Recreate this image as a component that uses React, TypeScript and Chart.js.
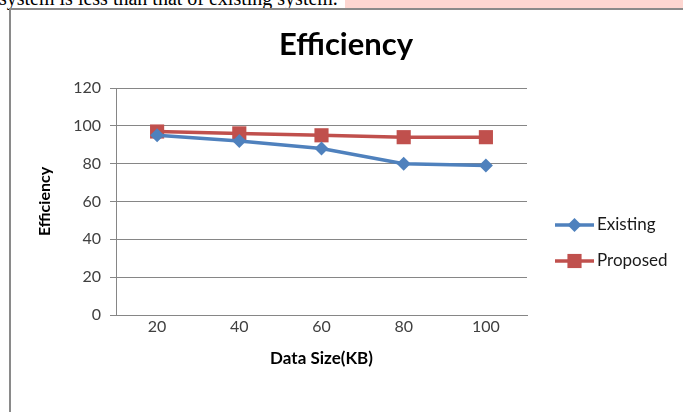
import React, { useEffect, useRef } from "react";
import { Chart, registerables } from "chart.js";

Chart.register(...registerables);

const categories = ["20", "40", "60", "80", "100"];
const existingValues = [95, 92, 88, 80, 79];
const proposedValues = [97, 96, 95, 94, 94];
const seriesNames = ["Existing", "Proposed"];
const seriesColors = ["#4F81BD", "#C0504D"];
const yMin = 0;
const yMax = 120;
const yStep = 20;
const chartTitle = "Efficiency";
const yAxisTitle = "Efficiency";
const xAxisTitle = "Data Size(KB)";
const captionText = "system is less than that of existing system.";

const FONT = "Lato, 'Noto Sans', sans-serif";
const GRID = "#868686";

const legendPlugin = {
  id: "excelLegend",
  afterDraw(chart: any) {
    const ctx = chart.ctx as CanvasRenderingContext2D;
    const x0 = 555;
    const x1 = 594;
    const yStart = 225;
    const dy = 36;
    chart.data.datasets.forEach((ds: any, i: number) => {
      const y = yStart + i * dy;
      const color = ds.borderColor;
      ctx.save();
      ctx.strokeStyle = color;
      ctx.lineWidth = ds.borderWidth;
      ctx.beginPath();
      ctx.moveTo(x0, y);
      ctx.lineTo(x1, y);
      ctx.stroke();
      const cx = (x0 + x1) / 2;
      ctx.fillStyle = color;
      if (ds.pointStyle === "rectRot") {
        const r = ds.pointRadius;
        ctx.beginPath();
        ctx.moveTo(cx, y - r);
        ctx.lineTo(cx + r, y);
        ctx.lineTo(cx, y + r);
        ctx.lineTo(cx - r, y);
        ctx.closePath();
        ctx.fill();
      } else {
        const s = ds.pointRadius * Math.SQRT1_2;
        ctx.fillRect(cx - s, y - s, 2 * s, 2 * s);
      }
      ctx.fillStyle = "#1a1a1a";
      ctx.font = `17px ${FONT}`;
      ctx.textBaseline = "middle";
      ctx.textAlign = "left";
      ctx.fillText(ds.label, x1 + 3, y);
      ctx.restore();
    });
  },
};

export default function App() {
  const canvasRef = useRef<HTMLCanvasElement | null>(null);

  useEffect(() => {
    if (!canvasRef.current) return;
    const chart = new Chart(canvasRef.current, {
      type: "line",
      data: {
        labels: categories,
        datasets: [
          {
            label: seriesNames[0],
            data: existingValues,
            borderColor: seriesColors[0],
            backgroundColor: seriesColors[0],
            borderWidth: 3.5,
            pointStyle: "rectRot",
            pointRadius: 7,
            pointBorderWidth: 0,
            tension: 0,
            yAxisID: "y",
          },
          {
            label: seriesNames[1],
            data: proposedValues,
            borderColor: seriesColors[1],
            backgroundColor: seriesColors[1],
            borderWidth: 3.5,
            pointStyle: "rect",
            pointRadius: 10,
            pointBorderWidth: 0,
            tension: 0,
            yAxisID: "y",
          },
        ],
      },
      options: {
        animation: false,
        responsive: false,
        maintainAspectRatio: false,
        layout: { padding: { left: 9, right: 0, top: 0, bottom: 0 } },
        plugins: {
          legend: { display: false },
          tooltip: { enabled: false },
          title: {
            display: true,
            text: chartTitle,
            color: "#000000",
            font: { family: FONT, size: 31, weight: "bold" },
            padding: { top: 26.4, bottom: 24.4 },
          },
        },
        scales: {
          x: {
            type: "category",
            offset: true,
            grid: { display: false, drawTicks: false },
            border: { display: true, color: GRID, width: 1 },
            ticks: {
              color: "#404040",
              font: { family: FONT, size: 16 },
              padding: 2,
            },
            title: {
              display: true,
              text: xAxisTitle,
              color: "#000000",
              font: { family: FONT, size: 17, weight: "bold" },
              padding: { top: 0, bottom: 42.8 },
            },
            afterFit(scale: any) {
              scale.height = 97;
            },
          },
          y: {
            min: yMin,
            max: yMax,
            grid: { color: GRID, lineWidth: 1, tickLength: 6, drawTicks: true },
            border: { display: true, color: GRID, width: 1 },
            ticks: {
              stepSize: yStep,
              color: "#404040",
              font: { family: FONT, size: 16 },
              padding: 9,
            },
            title: {
              display: true,
              text: yAxisTitle,
              color: "#000000",
              font: { family: FONT, size: 16, weight: "bold" },
              padding: { top: 26.4, bottom: 0 },
            },
            afterFit(scale: any) {
              scale.width = 107;
            },
          },
          legendSpace: {
            type: "linear",
            position: "right",
            display: true,
            grid: { display: false, drawTicks: false },
            border: { display: false },
            ticks: { display: false },
            afterFit(scale: any) {
              scale.width = 156;
            },
          },
        },
      },
      plugins: [legendPlugin],
    });
    return () => chart.destroy();
  }, []);

  return (
    <div
      style={{
        position: "fixed",
        left: 0,
        top: 0,
        width: 683,
        height: 412,
        overflow: "hidden",
        background: "#ffffff",
      }}
    >
      <div
        style={{
          position: "absolute",
          left: 345,
          top: 0,
          width: 338,
          height: 8,
          background: "#fdd6d1",
        }}
      />
      <div
        style={{
          position: "absolute",
          left: -1,
          top: -12,
          fontFamily: "'Liberation Serif', 'Times New Roman', serif",
          fontSize: 20,
          lineHeight: "20px",
          whiteSpace: "nowrap",
          color: "#000",
        }}
      >
        {captionText}
      </div>
      <div
        style={{
          position: "absolute",
          left: 9,
          top: 8,
          width: 700,
          height: 420,
          borderLeft: "2px solid #8a8a8a",
          borderTop: "2px solid #8a8a8a",
          background: "#ffffff",
        }}
      />
      <canvas
        ref={canvasRef}
        width={683}
        height={412}
        style={{ position: "absolute", left: 0, top: 0, width: 683, height: 412 }}
      />
    </div>
  );
}
